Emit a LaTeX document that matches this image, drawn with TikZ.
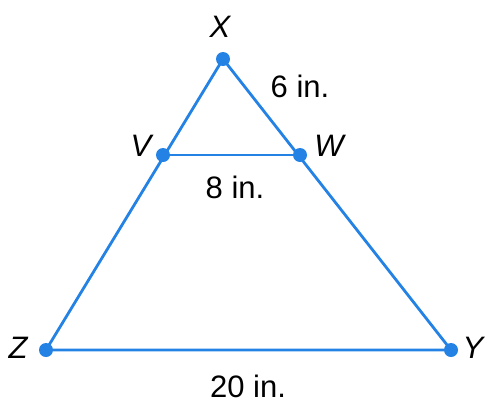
\documentclass[tikz,border=0pt]{standalone}
\usepackage{fontspec}
\setmainfont{Liberation Sans}
\definecolor{segblue}{RGB}{35,130,228}
\begin{document}
\begin{tikzpicture}[x=1pt,y=-1pt,
  pt/.style={circle,fill=segblue,inner sep=0pt,minimum size=14pt},
  seg/.style={draw=segblue,line width=2.8pt},
  lbl/.style={inner sep=0pt,font=\fontsize{31}{33}\selectfont\itshape},
  meas/.style={inner sep=0pt,font=\fontsize{31}{33}\selectfont}]
\useasboundingbox (0,0) rectangle (485,405);
\coordinate (X) at (223,59);
\coordinate (V) at (163,155);
\coordinate (W) at (300,155);
\coordinate (Z) at (46,350);
\coordinate (Y) at (451,350);
\draw[seg] (X) -- (Z) -- (Y) -- cycle;
\draw[seg] (V) -- (W);
\node[pt] (Xd) at (X) {};
\node[pt] (Vd) at (V) {};
\node[pt] (Wd) at (W) {};
\node[pt] (Zd) at (Z) {};
\node[pt] (Yd) at (Y) {};
\node[lbl] (Xl) at (220,27) {X};
\node[lbl] (Vl) at (141,146) {V};
\node[lbl] (Wl) at (329,146) {W};
\node[lbl] (Zl) at (18,348) {Z};
\node[lbl] (Yl) at (473,348) {Y};
\node[meas] (m6) at (300,86) {6 in.};
\node[meas] (m8) at (235,187) {8 in.};
\node[meas] (m20) at (248,386) {20 in.};
\end{tikzpicture}
\end{document}
